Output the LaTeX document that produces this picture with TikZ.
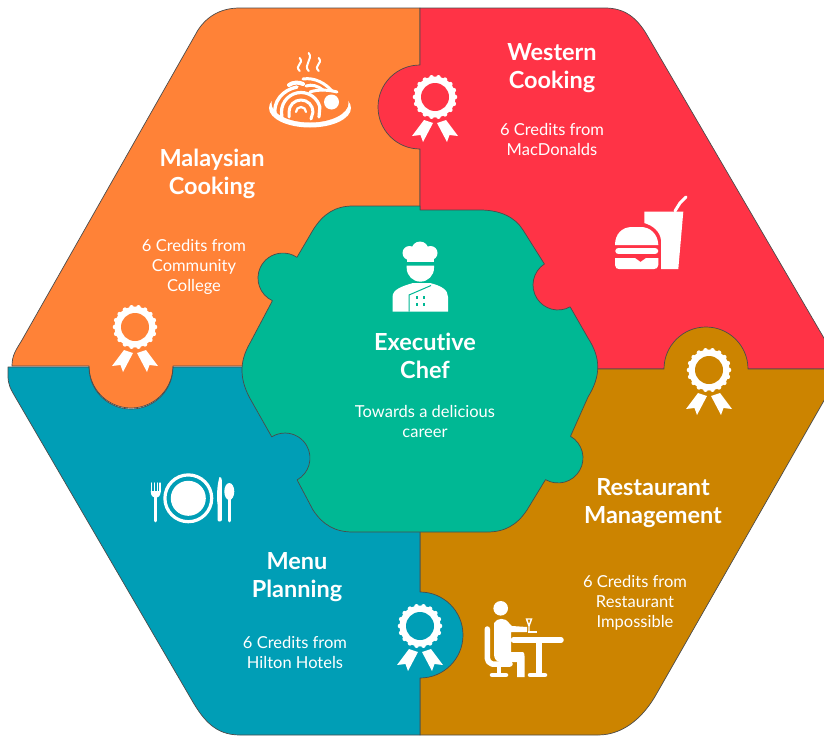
\documentclass[tikz,border=0pt]{standalone}
\usepackage{fontspec}
\setmainfont[Ligatures=NoCommon]{Lato}
\definecolor{cOrange}{RGB}{255,130,55}
\definecolor{cRed}{RGB}{255,51,70}
\definecolor{cGold}{RGB}{204,132,0}
\definecolor{cTeal}{RGB}{0,158,182}
\definecolor{cGreen}{RGB}{0,184,148}
\definecolor{cEdge}{RGB}{75,75,75}
\tikzset{
  piece/.style={draw=cEdge,line width=0.7pt,line join=round},
  title/.style={text=white,align=center,inner sep=0pt,font=\fontsize{23.5}{28}\selectfont\bfseries},
  body/.style={text=white,align=center,inner sep=0pt,font=\fontsize{16.5}{20}\selectfont},
  icon/.style={fill=white,draw=none},
  stroke/.style={draw=white,line cap=round,line join=round},
  pics/rosette/.style={code={
    \fill[white] (0,0) circle[radius=20.5];
    \foreach \a in {0,20,...,340} \fill[white] (\a:20) circle[radius=2.3];
    \fill[#1] (0,0) circle[radius=14];
    \fill[white] (-11,23)--(-2,26)--(-12,45)--(-14.5,38)--(-23,39)--cycle;
    \fill[white] (11,23)--(2,26)--(12,45)--(14.5,38)--(23,39)--cycle;
  }}
}
\begin{document}
\begin{tikzpicture}[x=1pt,y=-1pt]
\useasboundingbox (0,0) rectangle (824,736);
\clip (0,0) rectangle (824,736);
% pieces
\path[piece,fill=cOrange] (420,366) -- (173,366) arc[start angle=0,end angle=180,radius=42] -- (12,366)
  .. controls (12,355) and (16,350) .. (22,340) -- (198,30) .. controls (208,15) and (222,8) .. (240,8) -- (420,8) -- cycle;
\path[piece,fill=cRed] (420,8) -- (605,8) .. controls (625,8) and (637,18) .. (647,35) -- (842,369) -- (420,369)
  -- (420,149) arc[start angle=90,end angle=270,radius=42] -- cycle;
\path[piece,fill=cGold] (420,369) -- (664,369) arc[start angle=180,end angle=360,radius=42] -- (842,369) -- (657,693)
  .. controls (645,715) and (625,735) .. (598,735) -- (420,735) -- cycle;
\path[piece,fill=cTeal] (8,367) -- (89,367) arc[start angle=180,end angle=0,radius=42] -- (420,367) -- (420,592)
  arc[start angle=270,end angle=450,radius=43] -- (420,735) -- (240,735) .. controls (215,735) and (203,720) .. (190,697)
  -- (17,400) .. controls (10,388) and (8,385) .. (8,375) -- cycle;
% centre
\path[piece,fill=cGreen] (353,206) -- (420,206) -- (420,210) -- (480,210) .. controls (500,210) and (515,217) .. (523,230)
  -- (544.4,264) arc[start angle=237,end angle=61,radius=25] -- (588,338) .. controls (601,358) and (601,376) .. (588,397)
  -- (570.5,436.3) arc[start angle=-60,end angle=120,radius=25] -- (527,510) .. controls (517,525) and (505,532) .. (487,532)
  -- (353,532) .. controls (335,532) and (323,525) .. (313,510) -- (297.1,479.9) arc[start angle=61,end angle=-122,radius=25]
  -- (252,402) .. controls (239,380) and (239,362) .. (250,343) -- (272.4,300.7) arc[start angle=115,end angle=304,radius=25]
  -- (313,230) .. controls (323,214) and (335,206) .. (353,206) -- cycle;
% rosettes
\pic at (435,97) {rosette=cRed};
\pic at (135,327) {rosette=cOrange};
\pic at (709,370) {rosette=cGold};
\pic at (420,626) {rosette=cTeal};
% chef
\fill[icon] (420,250) circle[radius=8.5] (409.5,253) circle[radius=7] (430.5,253) circle[radius=7];
\fill[icon] (406.5,254) -- (434,254) -- (434,262) -- (406.5,262) -- cycle;
\fill[icon] (406.7,265.7) -- (434,265.7) -- (434,268) arc[start angle=0,end angle=180,radius=13.65] -- cycle;
\fill[icon] (392.5,311.5) -- (392.5,297) .. controls (392.5,289) and (403,286) .. (413,283) -- (430,283)
  .. controls (442,286) and (448,290) .. (448,297) -- (448,311.5) -- cycle;
\draw[cGreen,line width=1pt] (409,311.5) -- (409,295) -- (431,285.5);
\foreach \p in {(416.7,297.3),(424,297.3),(416.7,304.3),(424,304.3)} \fill[cGreen] \p ++(-1.2,-1.2) rectangle ++(2.4,2.4);
% noodle plate
\foreach \sx/\sy in {299.7/58,308.7/53,318.7/58} \draw[stroke,line width=2pt] (\sx,71) .. controls (\sx-6,65) and (\sx+5,\sy+6) .. (\sx,\sy);
\fill[icon] (310,108) circle[x radius=41,y radius=19.5];
\fill[cOrange] (310,103) circle[x radius=38.5,y radius=19.5];
\draw[stroke,line width=2.2pt] (296,112) arc[start angle=180,end angle=360,radius=5];
\draw[stroke,line width=3pt] (289,117) -- (289,112) arc[start angle=180,end angle=360,radius=12] -- (311,119);
\draw[stroke,line width=3.2pt] (282,119) -- (281.5,112) arc[start angle=180,end angle=345,radius=19.5] -- (319,117);
\draw[stroke,line width=3.4pt] (275,115) .. controls (273,102) and (282,90) .. (297,87);
\draw[stroke,line width=4pt] (289,85) .. controls (293,82) and (299,82) .. (303,84);
\draw[stroke,line width=3pt] (303,79) .. controls (315,77) and (326,84) .. (332,91);
\draw[stroke,line width=3pt] (310,92) .. controls (318,89) and (330,90) .. (337,92);
\draw[stroke,line width=3pt] (306,86) .. controls (312,84) and (318,86) .. (323,90);
\fill[icon] (331.5,102) circle[radius=7.5];
% burger and drink
\draw[stroke,line width=3pt] (675,211) -- (680,203) -- (686,197);
\fill[icon] (644.3,211.7) -- (683.3,211.7) -- (678.3,269) -- (661,269) -- (661,240) .. controls (660,232) and (654,226) .. (644.3,223) -- cycle;
\fill[icon] (615,245) -- (658.3,245) .. controls (658,234) and (650,227) .. (641,227) -- (632,227) .. controls (622,227) and (615,234) .. (615,245) -- cycle;
\draw[stroke,line width=6.5pt] (618.5,251) -- (655,251);
\fill[icon] (615,258) -- (635,258) -- (640.5,262) -- (646,258) -- (658.3,258) -- (658.3,265) .. controls (658.3,268) and (656,269) .. (654,269) -- (619,269) .. controls (617,269) and (615,268) .. (615,265) -- cycle;
% plate and cutlery
\draw[white,line width=3.2pt] (188.3,498.3) circle[radius=23.4];
\fill[icon] (188.3,498.3) circle[radius=17.5];
\draw[stroke,line width=2.8pt] (155.7,495) -- (155.7,521);
\draw[stroke,line width=1.3pt] (151.3,483) -- (151.3,492) (154.2,483) -- (154.2,492) (157.2,483) -- (157.2,492) (160,483) -- (160,492);
\fill[icon] (150.7,491) -- (160.7,491) .. controls (160.7,496) and (158,498) .. (155.7,498) .. controls (153.4,498) and (150.7,496) .. (150.7,491) -- cycle;
\fill[icon] (219.5,477) .. controls (221,477) and (221.8,478) .. (221.8,480) -- (221.8,520) .. controls (221.8,522) and (217.6,522) .. (217.6,520) -- (217.6,505) .. controls (216.5,497) and (217,485) .. (219.5,477) -- cycle;
\fill[icon] (229.3,491.5) circle[x radius=5,y radius=8.5];
\draw[stroke,line width=2.8pt] (229.3,498) -- (229.3,521);
% diner
\fill[icon] (500.7,608.3) circle[radius=7.3];
\fill[icon] (494,623) .. controls (497,618) and (505,617) .. (509,623) -- (512,626) -- (527,627) -- (527,632) -- (511,632)
  -- (511,652) -- (523,652) .. controls (524,652) and (524.5,654) .. (524.5,656) -- (524.5,677) -- (517,677) -- (517,662) -- (500,662) .. controls (496,662) and (494,658) .. (494,654) -- cycle;
\draw[stroke,line width=5.5pt] (487.3,629) -- (487.3,658) .. controls (487.3,661) and (489,663) .. (492,664) -- (510,664);
\draw[stroke,line width=4.5pt] (499,666) -- (499,674);
\draw[stroke,line width=4.5pt] (492,675) -- (506,675);
\draw[stroke,line width=5.5pt] (513.5,640) -- (561,640);
\draw[stroke,line width=6pt] (538.5,642) -- (538.5,673);
\draw[stroke,line width=4.5pt] (530,675) -- (545,675);
\draw[white,line width=1.4pt] (526.5,619) -- (531.5,619) -- (529,626) -- cycle (529,626) -- (529,631);
\draw[white,line width=1.5pt] (528,632) -- (537,632);
% text
\node[title] (tw) at (552,68.5) {Western\\Cooking};
\node[body] (bw) at (552,139.5) {6 Credits from\\MacDonalds};
\node[title] (tm) at (212,174) {Malaysian\\Cooking};
\node[body] (bm) at (194,267) {6 Credits from\\Community\\College};
\node[title] (te) at (425,356) {Executive\\Chef};
\node[body] (be) at (425,421) {Towards a delicious\\career};
\node[title] (tr) at (653,503) {Restaurant\\Management};
\node[body] (br) at (635,603) {6 Credits from\\Restaurant\\Impossible};
\node[title] (tp) at (297,577) {Menu\\Planning};
\node[body] (bp) at (295,652) {6 Credits from\\Hilton Hotels};
\end{tikzpicture}
\end{document}
